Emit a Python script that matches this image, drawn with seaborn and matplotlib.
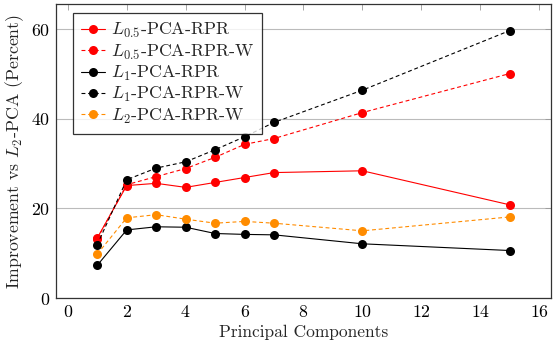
import pandas as pd
import seaborn as sns
import matplotlib
matplotlib.use('Agg')
from matplotlib import pyplot as plt

components = [1, 2, 3, 4, 5, 6, 7, 10, 15]

l05_rpr = [13.4, 25.1, 25.6, 24.7, 25.8, 26.9, 28.0, 28.4, 20.8]
l05_rpr_w = [13.2, 25.3, 27.1, 28.9, 31.4, 34.3, 35.6, 41.4, 50.1]
l1_rpr = [7.3, 15.2, 15.9, 15.8, 14.4, 14.2, 14.1, 12.1, 10.6]
l1_rpr_w = [11.9, 26.4, 29.0, 30.4, 33.1, 36.0, 39.2, 46.4, 59.7]
l2_rpr_w = [9.8, 17.9, 18.6, 17.6, 16.7, 17.1, 16.7, 15.0, 18.1]

names = [r'$L_{0.5}$-PCA-RPR', r'$L_{0.5}$-PCA-RPR-W', r'$L_1$-PCA-RPR',
         r'$L_1$-PCA-RPR-W', r'$L_2$-PCA-RPR-W']
series = [l05_rpr, l05_rpr_w, l1_rpr, l1_rpr_w, l2_rpr_w]
colors = ['#ff0000', '#ff0000', 'black', 'black', '#ff8c00']
dashed = [False, True, False, True, True]

sns.set_style('white')
plt.rcParams['font.family'] = 'serif'
plt.rcParams['font.serif'] = ['cmr10']
plt.rcParams['mathtext.fontset'] = 'cm'
plt.rcParams['axes.formatter.use_mathtext'] = True

fs = 12.8

fig = plt.figure(figsize=(5.56, 3.46), dpi=100)
ax = fig.add_axes([0.1007, 0.1387, 0.8903, 0.8493])

for name, vals, col, d in zip(names, series, colors, dashed):
    DATA = pd.DataFrame({'x': components, 'y': vals})
    sns.lineplot(x='x', y='y', data=DATA, ax=ax, color=col, marker='o',
                 markersize=6.5, markeredgewidth=0, linewidth=0.8,
                 linestyle=(0, (3.5, 2.5)) if d else '-', label=name)

ax.set_xlim(-0.4, 16.4)
ax.set_ylim(0, 65.6)
ax.set_xticks(range(0, 17, 2))
ax.set_yticks([0, 20, 40, 60])
ax.yaxis.grid(True, color='#bbbbbb', linewidth=0.8)
ax.set_axisbelow(True)
ax.tick_params(direction='in', top=True, right=True, length=4, width=0.6,
               color='#999999', labelsize=fs, labelcolor='black', pad=4)
for s in ax.spines.values():
    s.set_color('#333333')
    s.set_linewidth(0.9)

ax.set_xlabel('Principal Components', fontsize=12.5)
ax.set_ylabel(r'Improvement vs $L_2$-PCA (Percent)', fontsize=fs)

leg = ax.legend(loc='upper left', bbox_to_anchor=(0.034, 0.969), fontsize=fs,
                frameon=True, fancybox=False, edgecolor='black',
                handlelength=1.35, borderpad=0.45, labelspacing=0.13,
                handletextpad=0.35, borderaxespad=0)
leg.get_frame().set_linewidth(0.9)

fig.savefig('out.png', dpi=100)
